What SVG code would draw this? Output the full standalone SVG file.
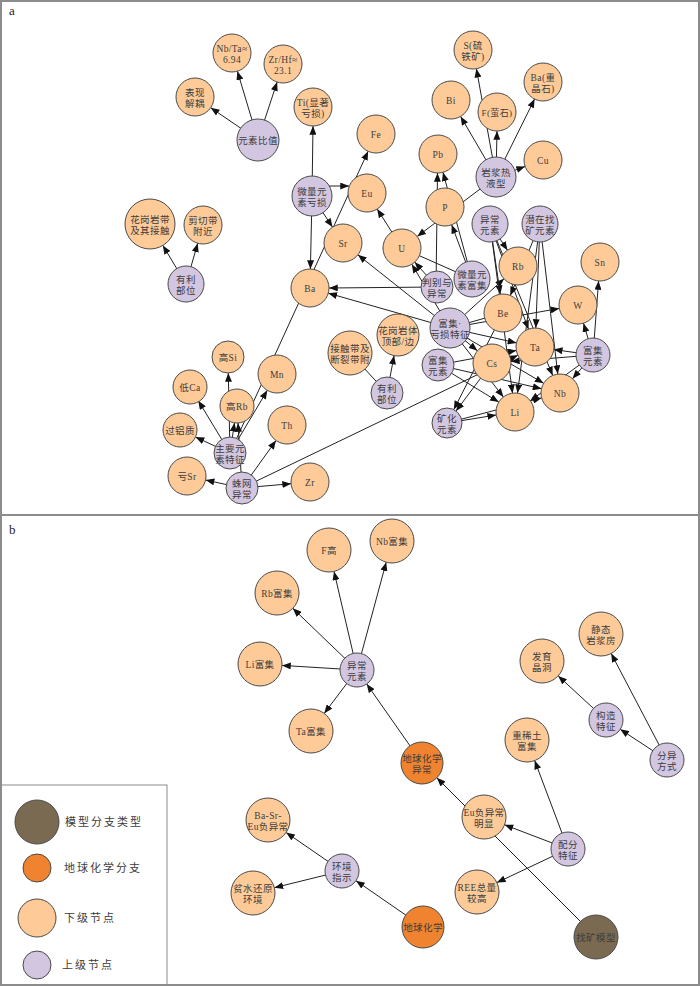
<svg xmlns="http://www.w3.org/2000/svg" width="700" height="986" viewBox="0 0 700 986">
<defs>
<marker id="ah" viewBox="0 0 10 8" refX="10" refY="4" markerWidth="9" markerHeight="7" markerUnits="userSpaceOnUse" orient="auto">
<path d="M0,0 L10,4 L0,8 z" fill="#111"/>
</marker>
<style>
.lo{fill:#FECB98;stroke:#4a4a4a;stroke-width:1}
.pu{fill:#D3C6E0;stroke:#4a4a4a;stroke-width:1}
.or{fill:#F0832F;stroke:#4a4a4a;stroke-width:1}
.br{fill:#7B6A52;stroke:#4a4a4a;stroke-width:1}
.t{font-family:"Liberation Serif","Noto Sans CJK SC",serif;font-size:9.5px;fill:#3c3c3c;text-anchor:middle;letter-spacing:0.4px}
.s{font-size:9px}
.lg{font-family:"Liberation Serif","Noto Sans CJK SC",serif;font-size:11px;fill:#3c3c3c;letter-spacing:2px}
.pl{font-family:"Liberation Serif",serif;font-size:13px;fill:#222}
#edges line{stroke:#222;stroke-width:1;fill:none}
#edges line.a{marker-end:url(#ah)}
</style>
</defs>
<rect x="0" y="0" width="700" height="986" fill="#fff"/>
<rect x="1" y="1" width="698" height="984" fill="none" stroke="#8c8c8c" stroke-width="2"/>
<line x1="0" y1="515" x2="700" y2="515" stroke="#8c8c8c" stroke-width="2"/>
<text class="pl" x="9" y="15">a</text>
<text class="pl" x="9" y="534">b</text>
<rect x="1" y="785" width="166" height="200" fill="none" stroke="#8c8c8c" stroke-width="1"/>

<g id="edges">
<line class="a" x1="258" y1="140" x2="210.7" y2="107.7"/>
<line class="a" x1="258" y1="140" x2="237.4" y2="71.2"/>
<line class="a" x1="258" y1="140" x2="277.1" y2="82.1"/>
<line class="a" x1="312" y1="196" x2="313" y2="126"/>
<line class="a" x1="326" y1="186" x2="349" y2="186"/>
<line class="a" x1="312" y1="196" x2="332.5" y2="227.1"/>
<line class="a" x1="312" y1="196" x2="310.4" y2="269"/>
<line class="a" x1="230" y1="453" x2="368.1" y2="151.3"/>
<line class="a" x1="186" y1="284" x2="162.9" y2="245.4"/>
<line class="a" x1="186" y1="284" x2="197.7" y2="243.3"/>
<line class="a" x1="496" y1="177" x2="476.4" y2="68.7"/>
<line class="a" x1="496" y1="177" x2="460.6" y2="116.4"/>
<line class="a" x1="496" y1="177" x2="497" y2="131"/>
<line class="a" x1="496" y1="177" x2="534.6" y2="99"/>
<line class="a" x1="496" y1="177" x2="525.1" y2="166.5"/>
<line class="a" x1="496" y1="177" x2="417.2" y2="236.5"/>
<line class="a" x1="436" y1="287" x2="437.5" y2="173"/>
<line class="a" x1="472" y1="279" x2="451.7" y2="224.8"/>
<line class="a" x1="472" y1="279" x2="443" y2="172.3"/>
<line class="a" x1="402" y1="248" x2="377.2" y2="209"/>
<line class="a" x1="437" y1="287" x2="414.7" y2="262.1"/>
<line class="a" x1="450" y1="328" x2="411.8" y2="264.3"/>
<line x1="402" y1="248" x2="472" y2="279"/>
<line class="a" x1="437" y1="287" x2="329" y2="288"/>
<line class="a" x1="450" y1="328" x2="357.9" y2="254.8"/>
<line class="a" x1="450" y1="328" x2="328.3" y2="293.2"/>
<line class="a" x1="450" y1="328" x2="504" y2="278.8"/>
<line x1="450" y1="328" x2="503" y2="313"/>
<line class="a" x1="450" y1="328" x2="559.3" y2="308.4"/>
<line class="a" x1="450" y1="328" x2="516.5" y2="342.9"/>
<line class="a" x1="450" y1="328" x2="477.4" y2="350.8"/>
<line class="a" x1="450" y1="328" x2="543.6" y2="383.3"/>
<line class="a" x1="450" y1="328" x2="503.4" y2="397"/>
<line class="a" x1="438" y1="365" x2="516.3" y2="350.5"/>
<line class="a" x1="438" y1="365" x2="541.5" y2="388.7"/>
<line class="a" x1="438" y1="365" x2="498.8" y2="402.1"/>
<line class="a" x1="593" y1="355" x2="583.5" y2="323.2"/>
<line class="a" x1="593" y1="355" x2="598.6" y2="280.9"/>
<line class="a" x1="593" y1="355" x2="553.8" y2="349.6"/>
<line class="a" x1="593" y1="355" x2="572.5" y2="378.7"/>
<line class="a" x1="593" y1="355" x2="510.9" y2="361.5"/>
<line class="a" x1="593" y1="355" x2="530.3" y2="400.8"/>
<line class="a" x1="490" y1="224" x2="507.5" y2="250.2"/>
<line class="a" x1="490" y1="224" x2="500.3" y2="294.2"/>
<line class="a" x1="490" y1="224" x2="528.5" y2="329.2"/>
<line class="a" x1="490" y1="224" x2="512.5" y2="393.2"/>
<line class="a" x1="490" y1="224" x2="552.7" y2="375.4"/>
<line class="a" x1="540" y1="224" x2="510.3" y2="295.5"/>
<line class="a" x1="540" y1="224" x2="535.8" y2="328"/>
<line class="a" x1="540" y1="224" x2="557.8" y2="374.1"/>
<line class="a" x1="540" y1="224" x2="517.5" y2="393.2"/>
<line class="a" x1="492" y1="363" x2="456" y2="411"/>
<line class="a" x1="503" y1="313" x2="453.8" y2="409.6"/>
<line class="a" x1="447" y1="423" x2="496.2" y2="415"/>
<line class="a" x1="447" y1="423" x2="541.6" y2="397.9"/>
<line class="a" x1="387" y1="393" x2="394.1" y2="355.6"/>
<line x1="387" y1="393" x2="350" y2="353"/>
<line class="a" x1="230" y1="453" x2="195.5" y2="437.1"/>
<line class="a" x1="230" y1="453" x2="198.3" y2="400.7"/>
<line class="a" x1="230" y1="453" x2="228.3" y2="373"/>
<line class="a" x1="230" y1="453" x2="267.3" y2="390.3"/>
<line class="a" x1="230" y1="453" x2="234.5" y2="422.8"/>
<line class="a" x1="242" y1="488" x2="238" y2="423"/>
<line class="a" x1="242" y1="488" x2="205.6" y2="480"/>
<line class="a" x1="242" y1="488" x2="291.1" y2="483.7"/>
<line class="a" x1="242" y1="488" x2="276" y2="440.5"/>
<line class="a" x1="242" y1="488" x2="517.9" y2="355.2"/>

<line class="a" x1="357" y1="670" x2="292.8" y2="608.3"/>
<line class="a" x1="357" y1="670" x2="334" y2="571.4"/>
<line class="a" x1="357" y1="670" x2="386.2" y2="562.2"/>
<line class="a" x1="357" y1="670" x2="282" y2="665.4"/>
<line class="a" x1="357" y1="670" x2="324.2" y2="713.4"/>
<line class="a" x1="422" y1="763" x2="366.7" y2="683.9"/>
<line class="a" x1="596" y1="937" x2="436.8" y2="777.8"/>
<line class="a" x1="568" y1="849" x2="534.7" y2="760.6"/>
<line class="a" x1="568" y1="849" x2="504.5" y2="824.8"/>
<line class="a" x1="568" y1="849" x2="496.9" y2="882.6"/>
<line class="a" x1="667" y1="760" x2="620.2" y2="729.3"/>
<line class="a" x1="667" y1="760" x2="611.2" y2="653.5"/>
<line class="a" x1="606" y1="720" x2="558.2" y2="675.9"/>
<line class="a" x1="342" y1="871" x2="286.1" y2="832.5"/>
<line class="a" x1="342" y1="871" x2="274.4" y2="887.7"/>
<line class="a" x1="423" y1="927" x2="356" y2="880.7"/>
</g>

<g id="n_nbta"><circle class="lo" cx="232" cy="53" r="19"/><text class="t" x="232" y="51.5">Nb/Ta≈<tspan x="232" dy="11">6.94</tspan></text></g>
<g id="n_zrhf"><circle class="lo" cx="283" cy="64" r="19"/><text class="t" x="283" y="62.5">Zr/Hf≈<tspan x="283" dy="11">23.1</tspan></text></g>
<g id="n_bxjo"><circle class="lo" cx="195" cy="97" r="19"/><text class="t" x="195" y="95.5">表现<tspan x="195" dy="11">解耦</tspan></text></g>
<g id="n_ysbz"><circle class="pu" cx="258" cy="140" r="21"/><text class="t" x="258" y="143.5">元素比值</text></g>
<g id="n_ti"><circle class="lo" cx="313" cy="107" r="19"/><text class="t" x="313" y="105.5">Ti(显著<tspan x="313" dy="11">亏损)</tspan></text></g>
<g id="n_fe"><circle class="lo" cx="376" cy="134" r="19"/><text class="t" x="376" y="137.5">Fe</text></g>
<g id="n_wlks"><circle class="pu" cx="312" cy="196" r="20"/><text class="t" x="312" y="194.5">微量元<tspan x="312" dy="11">素亏损</tspan></text></g>
<g id="n_eu"><circle class="lo" cx="367" cy="193" r="19"/><text class="t" x="367" y="196.5">Eu</text></g>
<g id="n_sr"><circle class="lo" cx="343" cy="243" r="19"/><text class="t" x="343" y="246.5">Sr</text></g>
<g id="n_ba"><circle class="lo" cx="310" cy="288" r="19"/><text class="t" x="310" y="291.5">Ba</text></g>
<g id="n_ylbw1"><circle class="pu" cx="186" cy="284" r="18"/><text class="t" x="186" y="282.5">有利<tspan x="186" dy="11">部位</tspan></text></g>
<g id="n_hgyd"><circle class="lo" cx="150" cy="224" r="25"/><text class="t" x="150" y="222.5">花岗岩带<tspan x="150" dy="11">及其接触</tspan></text></g>
<g id="n_jqd"><circle class="lo" cx="203" cy="225" r="19"/><text class="t" x="203" y="223.5">剪切带<tspan x="203" dy="11">附近</tspan></text></g>
<g id="n_s"><circle class="lo" cx="473" cy="50" r="19"/><text class="t" x="473" y="48.5">S(硫<tspan x="473" dy="11">铁矿)</tspan></text></g>
<g id="n_bazjs"><circle class="lo" cx="543" cy="82" r="19"/><text class="t" x="543" y="80.5">Ba(重<tspan x="543" dy="11">晶石)</tspan></text></g>
<g id="n_bi"><circle class="lo" cx="451" cy="100" r="19"/><text class="t" x="451" y="103.5">Bi</text></g>
<g id="n_f"><circle class="lo" cx="497" cy="112" r="19"/><text class="t s" x="497" y="115.5">F(萤石)</text></g>
<g id="n_pb"><circle class="lo" cx="438" cy="154" r="19"/><text class="t" x="438" y="157.5">Pb</text></g>
<g id="n_cu"><circle class="lo" cx="543" cy="160" r="19"/><text class="t" x="543" y="163.5">Cu</text></g>
<g id="n_yjry"><circle class="pu" cx="496" cy="177" r="20"/><text class="t" x="496" y="175.5">岩浆热<tspan x="496" dy="11">液型</tspan></text></g>
<g id="n_p"><circle class="lo" cx="445" cy="207" r="19"/><text class="t" x="445" y="210.5">P</text></g>
<g id="n_u"><circle class="lo" cx="402" cy="248" r="19"/><text class="t" x="402" y="251.5">U</text></g>
<g id="n_ycys"><circle class="pu" cx="490" cy="224" r="18"/><text class="t" x="490" y="222.5">异常<tspan x="490" dy="11">元素</tspan></text></g>
<g id="n_qzzk"><circle class="pu" cx="540" cy="224" r="18"/><text class="t" x="540" y="222.5">潜在找<tspan x="540" dy="11">矿元素</tspan></text></g>
<g id="n_rb"><circle class="lo" cx="518" cy="266" r="19"/><text class="t" x="518" y="269.5">Rb</text></g>
<g id="n_sn"><circle class="lo" cx="600" cy="262" r="19"/><text class="t" x="600" y="265.5">Sn</text></g>
<g id="n_pbyc"><circle class="pu" cx="437" cy="287" r="16"/><text class="t" x="437" y="285.5">判别与<tspan x="437" dy="11">异常</tspan></text></g>
<g id="n_wlfj"><circle class="pu" cx="472" cy="279" r="18"/><text class="t" x="472" y="277.5">微量元<tspan x="472" dy="11">素富集</tspan></text></g>
<g id="n_be"><circle class="lo" cx="503" cy="313" r="19"/><text class="t" x="503" y="316.5">Be</text></g>
<g id="n_w"><circle class="lo" cx="578" cy="305" r="19"/><text class="t" x="578" y="308.5">W</text></g>
<g id="n_fjks"><circle class="pu" cx="450" cy="328" r="20"/><text class="t" x="450" y="326.5">富集·<tspan x="450" dy="11">亏损特征</tspan></text></g>
<g id="n_hgyt"><circle class="lo" cx="398" cy="335" r="21"/><text class="t" x="398" y="333.5">花岗岩体<tspan x="398" dy="11">顶部/边</tspan></text></g>
<g id="n_ta"><circle class="lo" cx="535" cy="347" r="19"/><text class="t" x="535" y="350.5">Ta</text></g>
<g id="n_fjys2"><circle class="pu" cx="593" cy="355" r="17"/><text class="t" x="593" y="353.5">富集<tspan x="593" dy="11">元素</tspan></text></g>
<g id="n_jcd"><circle class="lo" cx="350" cy="353" r="22"/><text class="t" x="350" y="351.5">接触带及<tspan x="350" dy="11">断裂带附</tspan></text></g>
<g id="n_ylbw2"><circle class="pu" cx="387" cy="393" r="16"/><text class="t" x="387" y="391.5">有利<tspan x="387" dy="11">部位</tspan></text></g>
<g id="n_fjys1"><circle class="pu" cx="438" cy="365" r="16"/><text class="t" x="438" y="363.5">富集<tspan x="438" dy="11">元素</tspan></text></g>
<g id="n_cs"><circle class="lo" cx="492" cy="363" r="19"/><text class="t" x="492" y="366.5">Cs</text></g>
<g id="n_nb"><circle class="lo" cx="560" cy="393" r="19"/><text class="t" x="560" y="396.5">Nb</text></g>
<g id="n_li"><circle class="lo" cx="515" cy="412" r="19"/><text class="t" x="515" y="415.5">Li</text></g>
<g id="n_khys"><circle class="pu" cx="447" cy="423" r="15"/><text class="t" x="447" y="421.5">矿化<tspan x="447" dy="11">元素</tspan></text></g>
<g id="n_gsi"><circle class="lo" cx="228" cy="357" r="16"/><text class="t" x="228" y="360.5">高Si</text></g>
<g id="n_dca"><circle class="lo" cx="190" cy="387" r="17"/><text class="t" x="190" y="390.5">低Ca</text></g>
<g id="n_mn"><circle class="lo" cx="277" cy="374" r="19"/><text class="t" x="277" y="377.5">Mn</text></g>
<g id="n_grb"><circle class="lo" cx="237" cy="406" r="17"/><text class="t" x="237" y="409.5">高Rb</text></g>
<g id="n_th"><circle class="lo" cx="287" cy="425" r="19"/><text class="t" x="287" y="428.5">Th</text></g>
<g id="n_glz"><circle class="lo" cx="180" cy="430" r="17"/><text class="t" x="180" y="433.5">过铝质</text></g>
<g id="n_zyys"><circle class="pu" cx="230" cy="453" r="16"/><text class="t" x="230" y="451.5">主要元<tspan x="230" dy="11">素特征</tspan></text></g>
<g id="n_ksr"><circle class="lo" cx="187" cy="476" r="19"/><text class="t" x="187" y="479.5">亏Sr</text></g>
<g id="n_zwyc"><circle class="pu" cx="242" cy="488" r="16"/><text class="t" x="242" y="486.5">蛛网<tspan x="242" dy="11">异常</tspan></text></g>
<g id="n_zr"><circle class="lo" cx="310" cy="482" r="19"/><text class="t" x="310" y="485.5">Zr</text></g>

<g id="b_nbfj"><circle class="lo" cx="392" cy="541" r="22"/><text class="t" x="392" y="544.5">Nb富集</text></g>
<g id="b_fg"><circle class="lo" cx="329" cy="550" r="22"/><text class="t" x="329" y="553.5">F高</text></g>
<g id="b_rbfj"><circle class="lo" cx="277" cy="593" r="22"/><text class="t" x="277" y="596.5">Rb富集</text></g>
<g id="b_ycys"><circle class="pu" cx="357" cy="670" r="17"/><text class="t" x="357" y="668.5">异常<tspan x="357" dy="11">元素</tspan></text></g>
<g id="b_lifj"><circle class="lo" cx="260" cy="664" r="22"/><text class="t" x="260" y="667.5">Li富集</text></g>
<g id="b_tafj"><circle class="lo" cx="311" cy="731" r="22"/><text class="t" x="311" y="734.5">Ta富集</text></g>
<g id="b_dqhxyc"><circle class="or" cx="422" cy="763" r="21"/><text class="t" x="422" y="761.5">地球化学<tspan x="422" dy="11">异常</tspan></text></g>
<g id="b_bsreu"><circle class="lo" cx="268" cy="820" r="22"/><text class="t" x="268" y="818.5">Ba-Sr-<tspan x="268" dy="11">Eu负异常</tspan></text></g>
<g id="b_hjzs"><circle class="pu" cx="342" cy="871" r="17"/><text class="t" x="342" y="869.5">环境<tspan x="342" dy="11">指示</tspan></text></g>
<g id="b_psly"><circle class="lo" cx="253" cy="893" r="22"/><text class="t" x="253" y="891.5">贫水还原<tspan x="253" dy="11">环境</tspan></text></g>
<g id="b_dqhx"><circle class="or" cx="423" cy="927" r="21"/><text class="t" x="423" y="930.5">地球化学</text></g>
<g id="b_jtyjf"><circle class="lo" cx="601" cy="634" r="22"/><text class="t" x="601" y="632.5">静态<tspan x="601" dy="11">岩浆房</tspan></text></g>
<g id="b_fyjd"><circle class="lo" cx="542" cy="661" r="22"/><text class="t" x="542" y="659.5">发育<tspan x="542" dy="11">晶洞</tspan></text></g>
<g id="b_gztz"><circle class="pu" cx="606" cy="720" r="17"/><text class="t" x="606" y="718.5">构造<tspan x="606" dy="11">特征</tspan></text></g>
<g id="b_fyfs"><circle class="pu" cx="667" cy="760" r="17"/><text class="t" x="667" y="758.5">分异<tspan x="667" dy="11">方式</tspan></text></g>
<g id="b_zxtfj"><circle class="lo" cx="527" cy="740" r="22"/><text class="t" x="527" y="738.5">重稀土<tspan x="527" dy="11">富集</tspan></text></g>
<g id="b_eufyc"><circle class="lo" cx="484" cy="817" r="22"/><text class="t" x="484" y="815.5">Eu负异常<tspan x="484" dy="11">明显</tspan></text></g>
<g id="b_pftz"><circle class="pu" cx="568" cy="849" r="17"/><text class="t" x="568" y="847.5">配分<tspan x="568" dy="11">特征</tspan></text></g>
<g id="b_reezl"><circle class="lo" cx="477" cy="892" r="22"/><text class="t" x="477" y="890.5">REE总量<tspan x="477" dy="11">较高</tspan></text></g>
<g id="b_zkmx"><circle class="br" cx="596" cy="937" r="22"/><text class="t" x="596" y="940.5">找矿模型</text></g>

<g id="legend">
<circle class="br" cx="37" cy="822" r="22"/><text class="lg" x="65" y="826">模型分支类型</text>
<circle class="or" cx="37" cy="868" r="14"/><text class="lg" x="64" y="872">地球化学分支</text>
<circle class="lo" cx="37" cy="918" r="19"/><text class="lg" x="64" y="922">下级节点</text>
<circle class="pu" cx="37" cy="965" r="14"/><text class="lg" x="62" y="969">上级节点</text>
</g>
</svg>
